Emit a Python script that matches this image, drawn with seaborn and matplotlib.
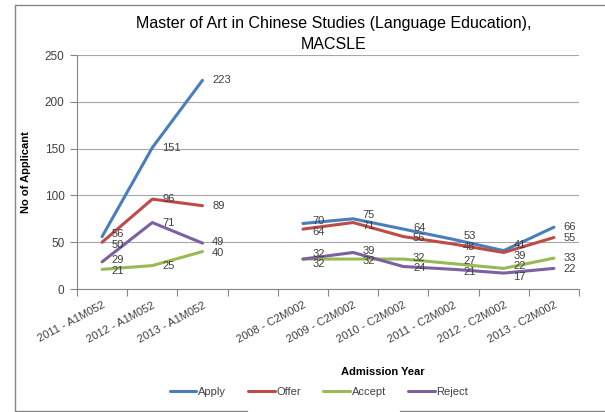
import numpy as np
import pandas as pd
import matplotlib
matplotlib.use("Agg")
import matplotlib.pyplot as plt
from matplotlib.lines import Line2D
import seaborn as sns

categories = ["2011 - A1M052", "2012 - A1M052", "2013 - A1M052", "",
              "2008 - C2M002", "2009 - C2M002", "2010 - C2M002",
              "2011 - C2M002", "2012 - C2M002", "2013 - C2M002"]
programme = ["A1M052"] * 3 + [None] + ["C2M002"] * 6

apply_vals = [56, 151, 223, np.nan, 70, 75, 64, 53, 41, 66]
offer_vals = [50, 96, 89, np.nan, 64, 71, 56, 48, 39, 55]
accept_vals = [21, 25, 40, np.nan, 32, 32, 32, 27, 22, 33]
reject_vals = [29, 71, 49, np.nan, 32, 39, 24, 21, 17, 22]

series_names = ["Apply", "Offer", "Accept", "Reject"]
series_values = [apply_vals, offer_vals, accept_vals, reject_vals]
colors = ["#4A7EBB", "#BE4B48", "#98B954", "#7D60A0"]

y_ticks = [0, 50, 100, 150, 200, 250]

rows = []
for name, vals in zip(series_names, series_values):
    for i, (cat, prog, v) in enumerate(zip(categories, programme, vals)):
        if prog is None or np.isnan(v):
            continue
        rows.append({"pos": i, "category": cat, "programme": prog,
                     "series": name, "value": v})
df = pd.DataFrame(rows)

sns.set_style("white")
plt.rcParams["font.family"] = ["Liberation Sans", "DejaVu Sans"]

W, H = 605, 412
fig = plt.figure(figsize=(W / 100, H / 100), dpi=100)
ax = fig.add_axes([77 / W, 1 - 289 / H, 502 / W, 234 / H])

palette = dict(zip(series_names, colors))
sns.lineplot(data=df, x="pos", y="value", hue="series", units="programme",
             estimator=None, palette=palette, hue_order=series_names,
             linewidth=2.2, legend=False, ax=ax, sort=True)

# value labels to the right of each point; labels in one category that
# would collide are pushed apart vertically
text_color = "#404040"
px_per_unit = 234 / 250
min_gap = 10.5
for i in range(len(categories)):
    pts = [(vals[i], k) for k, vals in enumerate(series_values)
           if not np.isnan(vals[i])]
    pts.sort(reverse=True)
    base = np.array([v * px_per_unit for v, _ in pts])
    pos = base.copy()
    for _ in range(200):
        moved = False
        for j in range(len(pos) - 1):
            gap = pos[j] - pos[j + 1]
            if gap < min_gap:
                d = (min_gap - gap) / 2
                pos[j] += d
                pos[j + 1] -= d
                moved = True
        if not moved:
            break
    for (v, k), p, b in zip(pts, pos, base):
        ax.annotate(f"{int(v)}", (i, v), xytext=(7, (p - b) * 0.72),
                    textcoords="offset points", ha="left", va="center",
                    fontsize=8, color=text_color)

ax.set_xlim(-0.5, len(categories) - 0.5)
ax.set_ylim(0, 250)
ax.set_yticks(y_ticks)
ax.yaxis.grid(True, color="#A6A6A6", linewidth=0.8)
ax.set_axisbelow(True)

ax.set_xticks(range(len(categories)))
ax.set_xticklabels(categories, rotation=28, ha="right", rotation_mode="anchor",
                   fontsize=8, color=text_color)
ax.set_xticks(np.arange(-0.5, len(categories), 1), minor=True)
ax.tick_params(axis="x", which="major", length=0, pad=8)
ax.tick_params(axis="x", which="minor", length=5, color="#868686", width=0.8,
               direction="out", bottom=True)
ax.tick_params(axis="y", length=5, color="#868686", width=0.8, left=True,
               labelsize=8.5, labelcolor=text_color, pad=4)

for side in ["top", "right"]:
    ax.spines[side].set_visible(False)
for side in ["left", "bottom"]:
    ax.spines[side].set_color("#868686")
    ax.spines[side].set_linewidth(0.8)

ax.set_xlabel("Admission Year", fontsize=8, fontweight="bold", color="black")
ax.xaxis.set_label_coords(306 / 502, (289 - 367) / 234, transform=ax.transAxes)
ax.set_ylabel("No of Applicant", fontsize=8, fontweight="bold", color="black")
ax.yaxis.set_label_coords(-46 / 502, 0.5, transform=ax.transAxes)

fig.text(334 / W, 1 - 34 / H,
         "Master of Art in Chinese Studies (Language Education),\nMACSLE",
         ha="center", va="center", fontsize=11.5, color="black",
         linespacing=1.45)

handles = [Line2D([0], [0], color=c, linewidth=2.2) for c in colors]
fig.legend(handles, series_names, loc="center", ncol=4,
           bbox_to_anchor=(319 / W, 1 - 392 / H), frameon=False,
           fontsize=8, handlelength=2.4, handletextpad=0.15, columnspacing=2.0,
           labelcolor=text_color)

# chart frame: left, top and bottom edges (bottom edge broken under the legend)
frame_kw = dict(transform=fig.transFigure, color="#868686", linewidth=1.0)
fig.add_artist(Line2D([15 / W, 15 / W], [1 - 411 / H, 1 - 5 / H], **frame_kw))
fig.add_artist(Line2D([15 / W, 1.0], [1 - 5 / H, 1 - 5 / H], **frame_kw))
fig.add_artist(Line2D([15 / W, 247 / W], [1 - 411 / H, 1 - 411 / H], **frame_kw))
fig.add_artist(Line2D([400 / W, 1.0], [1 - 411 / H, 1 - 411 / H], **frame_kw))

fig.savefig("out.png", dpi=100)
